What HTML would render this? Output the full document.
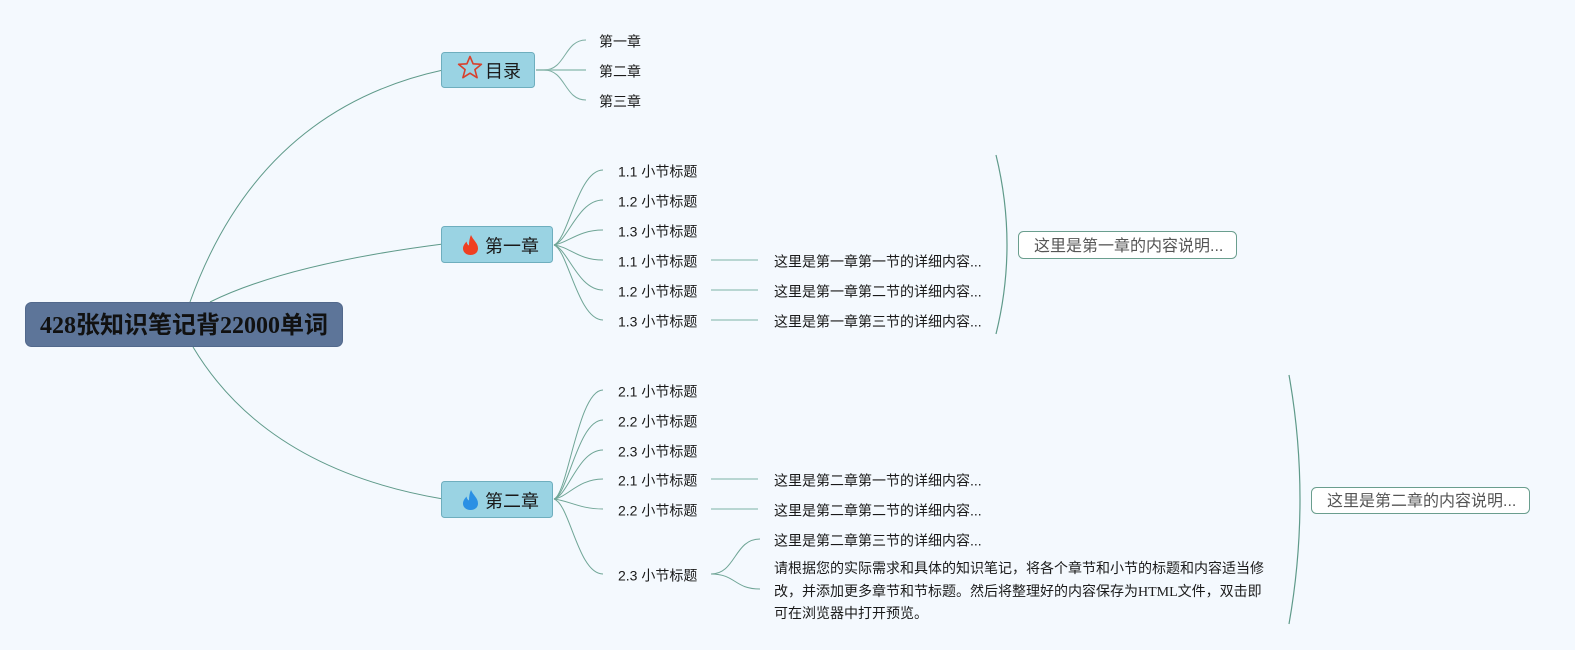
<!DOCTYPE html>
<html>
<head>
<meta charset="utf-8">
<style>
html,body{margin:0;padding:0;background:#f4f9fe;}
svg{display:block;}
text{font-family:"Liberation Sans","Noto Sans CJK SC",sans-serif;fill:#1a1a1a;}
.t{font-size:14px;}
.p{font-size:14px;font-family:"Liberation Serif","Noto Sans CJK SC",serif;}
.b{font-size:18px;}
.s{font-size:16px;fill:#555;}
.root{font-size:24px;font-weight:bold;font-family:"Liberation Serif","Noto Sans CJK SC",serif;fill:#111;}
</style>
</head>
<body>
<svg width="1575" height="650" viewBox="0 0 1575 650" xmlns="http://www.w3.org/2000/svg">
<rect x="0" y="0" width="1575" height="650" fill="#f4f9fe"/>

<!-- root connectors -->
<g fill="none" stroke="#5f9a8a" stroke-width="1">
<path d="M190,302 Q259,110 443,70"/>
<path d="M210,302 Q287,264 443,244"/>
<path d="M193,347 Q266,469 443,499"/>
</g>

<!-- 目录 branches -->
<g fill="none" stroke="#7daea2" stroke-width="1">
<path d="M536,70 L544,70 C566,70 564,40 586,40"/>
<path d="M536,70 L586,70" stroke-width="1.6" stroke="#98c2b9"/>
<path d="M536,70 L544,70 C566,70 564,100 586,100"/>
</g>

<!-- chapter 1 branches -->
<g fill="none" stroke="#6fa596" stroke-width="1">
<path d="M554,245 C568,240 578,170 603,170"/>
<path d="M554,245 C568,241 578,200 603,200"/>
<path d="M554,245 C568,243 578,230 603,230"/>
<path d="M554,245 C570,247 578,260 603,260"/>
<path d="M554,245 C568,249 578,290 603,290"/>
<path d="M554,245 C568,250 578,320 603,320"/>
</g>
<!-- chapter 2 branches -->
<g fill="none" stroke="#6fa596" stroke-width="1">
<path d="M554,499 C568,494 578,390 603,390"/>
<path d="M554,499 C568,495 578,420 603,420"/>
<path d="M554,499 C568,496 578,450 603,450"/>
<path d="M554,499 C568,497 578,479 603,479"/>
<path d="M554,499 C570,501 580,509 603,509"/>
<path d="M554,499 C570,504 578,574 603,574"/>
</g>

<!-- detail connectors -->
<g fill="none" stroke="#a3cac4" stroke-width="1.6">
<path d="M711,260 L758,260"/>
<path d="M711,290 L758,290"/>
<path d="M711,320 L758,320"/>
<path d="M711,479 L758,479"/>
<path d="M711,509 L758,509"/>
</g>
<g fill="none" stroke="#6fa596" stroke-width="1">
<path d="M711,574 C736,574 734,539 760,539"/>
<path d="M711,574 C736,574 734,589 760,589"/>
</g>

<!-- brackets -->
<g fill="none" stroke="#5f9a8a" stroke-width="1.2">
<path d="M996,155 Q1018,245 996,334"/>
<path d="M1289,375 Q1311,499 1289,624"/>
</g>

<!-- root node -->
<rect x="25.5" y="302.5" width="317" height="44" rx="6" fill="#5d7599" stroke="#52698c"/>
<text class="root" x="40" y="326" dominant-baseline="central">428张知识笔记背22000单词</text>

<!-- 目录 -->
<rect x="441.5" y="52.5" width="93" height="35" rx="3" fill="#9ad3e3" stroke="#6eaebe"/>
<polygon points="470,56.5 473.1,63.8 481.4,64.3 474.9,69.6 477.1,77.7 470,73.2 462.9,77.7 465.1,69.6 458.6,64.3 466.9,63.8" fill="none" stroke="#d8402c" stroke-width="1.6" stroke-linejoin="round"/>
<text class="b" x="485" y="71.5" dominant-baseline="central">目录</text>

<!-- 第一章 -->
<rect x="441.5" y="226.5" width="111" height="36" rx="3" fill="#9ad3e3" stroke="#6eaebe"/>
<path d="M471,235 C473,240 478,243 478,248.5 C478,252.5 474.7,255 470.5,255 C466.3,255 463,252.3 463,248.5 C463,245.5 465,243.5 466.5,241.5 C467,244 468,245 469,245.5 C469,242 469.5,238 471,235 Z" fill="#ef3f22"/>
<text class="b" x="485" y="246.5" dominant-baseline="central">第一章</text>

<!-- 第二章 -->
<rect x="441.5" y="481.5" width="111" height="36" rx="3" fill="#9ad3e3" stroke="#6eaebe"/>
<path d="M471,490 C473,495 478,498 478,503.5 C478,507.5 474.7,510 470.5,510 C466.3,510 463,507.3 463,503.5 C463,500.5 465,498.5 466.5,496.5 C467,499 468,500 469,500.5 C469,497 469.5,493 471,490 Z" fill="#2b90e4"/>
<text class="b" x="485" y="501.5" dominant-baseline="central">第二章</text>

<!-- 目录 children -->
<text class="t" x="599" y="41.5" dominant-baseline="central">第一章</text>
<text class="t" x="599" y="71.5" dominant-baseline="central">第二章</text>
<text class="t" x="599" y="101.5" dominant-baseline="central">第三章</text>

<!-- ch1 children -->
<text class="t" x="618" y="171.5" dominant-baseline="central">1.1 小节标题</text>
<text class="t" x="618" y="201.5" dominant-baseline="central">1.2 小节标题</text>
<text class="t" x="618" y="231.5" dominant-baseline="central">1.3 小节标题</text>
<text class="t" x="618" y="261.5" dominant-baseline="central">1.1 小节标题</text>
<text class="t" x="618" y="291.5" dominant-baseline="central">1.2 小节标题</text>
<text class="t" x="618" y="321.5" dominant-baseline="central">1.3 小节标题</text>
<text class="t" x="774" y="261.5" dominant-baseline="central">这里是第一章第一节的详细内容...</text>
<text class="t" x="774" y="291.5" dominant-baseline="central">这里是第一章第二节的详细内容...</text>
<text class="t" x="774" y="321.5" dominant-baseline="central">这里是第一章第三节的详细内容...</text>

<!-- ch2 children -->
<text class="t" x="618" y="391.5" dominant-baseline="central">2.1 小节标题</text>
<text class="t" x="618" y="421.5" dominant-baseline="central">2.2 小节标题</text>
<text class="t" x="618" y="451.5" dominant-baseline="central">2.3 小节标题</text>
<text class="t" x="618" y="480.5" dominant-baseline="central">2.1 小节标题</text>
<text class="t" x="618" y="510.5" dominant-baseline="central">2.2 小节标题</text>
<text class="t" x="618" y="575.5" dominant-baseline="central">2.3 小节标题</text>
<text class="t" x="774" y="480.5" dominant-baseline="central">这里是第二章第一节的详细内容...</text>
<text class="t" x="774" y="510.5" dominant-baseline="central">这里是第二章第二节的详细内容...</text>
<text class="t" x="774" y="540.5" dominant-baseline="central">这里是第二章第三节的详细内容...</text>
<text class="p" x="774" y="569.5" dominant-baseline="central">请根据您的实际需求和具体的知识笔记，将各个章节和小节的标题和内容适当修</text>
<text class="p" x="774" y="592.5" dominant-baseline="central">改，并添加更多章节和节标题。然后将整理好的内容保存为HTML文件，双击即</text>
<text class="p" x="774" y="614.5" dominant-baseline="central">可在浏览器中打开预览。</text>

<!-- summaries -->
<rect x="1018.5" y="231.5" width="218" height="27" rx="5" fill="#ffffff" stroke="#6a9e8e"/>
<text class="s" x="1034" y="246.5" dominant-baseline="central">这里是第一章的内容说明...</text>
<rect x="1311.5" y="487.5" width="218" height="26" rx="5" fill="#ffffff" stroke="#6a9e8e"/>
<text class="s" x="1327" y="501.5" dominant-baseline="central">这里是第二章的内容说明...</text>
</svg>
</body>
</html>
